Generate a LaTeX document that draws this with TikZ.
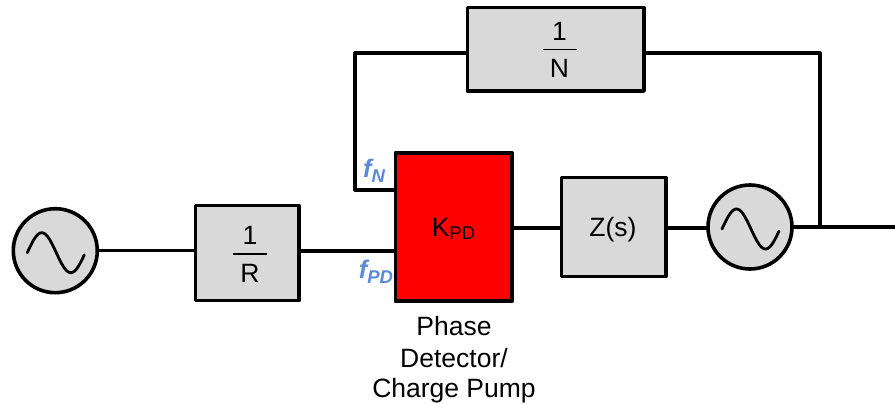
\documentclass[tikz,border=0pt]{standalone}
\usepackage{fontspec}
\setmainfont{Liberation Sans}
\definecolor{boxgray}{HTML}{D9D9D9}
\definecolor{pdred}{HTML}{FF0000}
\definecolor{lblue}{HTML}{5B8BD8}
\newcommand{\sz}{\fontsize{26.5}{32}\selectfont}
\newcommand{\flab}[1]{\textcolor{lblue}{\fontsize{25.5}{28}\selectfont\bfseries\itshape f\raisebox{-5pt}{\fontsize{18.5}{20}\selectfont #1}}}
\tikzset{
  x=1pt,y=-1pt,
  block/.style={draw=black,line width=3.6pt,line join=round,fill=boxgray,minimum width=#1,inner sep=0pt,outer sep=0pt},
  wire/.style={draw=black,line width=3.2pt,line join=round},
  bar/.style={draw=black,line width=1.6pt},
  txt/.style={inner sep=0pt,font=\sz,anchor=base},
  osc/.style={draw=black,line width=3.6pt,fill=boxgray,circle,minimum size=84pt,inner sep=0pt,outer sep=0pt},
  pics/sinewave/.style={code={
    \draw[line width=2.8pt,line cap=round,line join=round,smooth]
      plot[domain=-28:29,samples=41] (\x,{2-20*sin(180*(\x+28)/29)});
  }}
}
\begin{document}
\begin{tikzpicture}
\useasboundingbox (0,0) rectangle (895,404);
\fill[white] (0,0) rectangle (895,404);
% blocks
\node[block=103.5pt,minimum height=95pt] (R) at (247.2,253) {};
\node[block=116.5pt,minimum height=148.5pt,fill=pdred] (PD) at (453.7,227) {};
\node[block=104.5pt,minimum height=99pt] (Z) at (613.8,227) {};
\node[block=176.5pt,minimum height=83.5pt] (N) at (555.7,49.3) {};
\node[osc] (OL) at (55.3,250.7) {};
\node[osc] (OR) at (750,227) {};
\pic at (OL.center) {sinewave};
\pic at (OR.center) {sinewave};
% coordinates
\coordinate (nl) at (355,53);
\coordinate (nr) at (820,53);
\coordinate (fb) at (355,190);
\coordinate (j) at (820,227);
\coordinate (out) at (895,227);
% wires
\draw[wire] (OL.east) -- (R.west |- OL.east);
\draw[wire] (R.east |- 0,251) -- (PD.west |- 0,251);
\draw[wire] (PD.east |- 0,228) -- (Z.west |- 0,228);
\draw[wire] (Z.east |- 0,228) -- (OR.west |- 0,228);
\draw[wire] (OR.east) -- (j) -- (out);
\draw[wire] (j) -- (nr) -- (N.east |- nr);
\draw[wire] (N.west |- nl) -- (nl) -- (fb) -- (PD.west |- fb);
% texts
\node[txt] (one1) at (250,244.5) {1};
\draw[bar] (233,254) -- (267,254);
\node[txt] (rr) at (250,282.5) {R};
\node[txt] (one2) at (559.5,40.5) {1};
\draw[bar] (543,49.7) -- (576.5,49.7);
\node[txt] (nn) at (559.5,77.5) {N};
\node[txt] (kpd) at (453.5,236) {K\raisebox{-3pt}{\fontsize{18.5}{20}\selectfont PD}};
\node[txt] (zs) at (613,236) {Z(s)};
\node[txt] (ph1) at (454,335) {Phase};
\node[txt] (ph2) at (454,367) {Detector/};
\node[txt] (ph3) at (454,397.5) {Charge Pump};
\node[inner sep=0pt] (fn) at (374,171) {\flab{N}};
\node[inner sep=0pt] (fpd) at (376,272) {\flab{PD}};
\end{tikzpicture}
\end{document}
